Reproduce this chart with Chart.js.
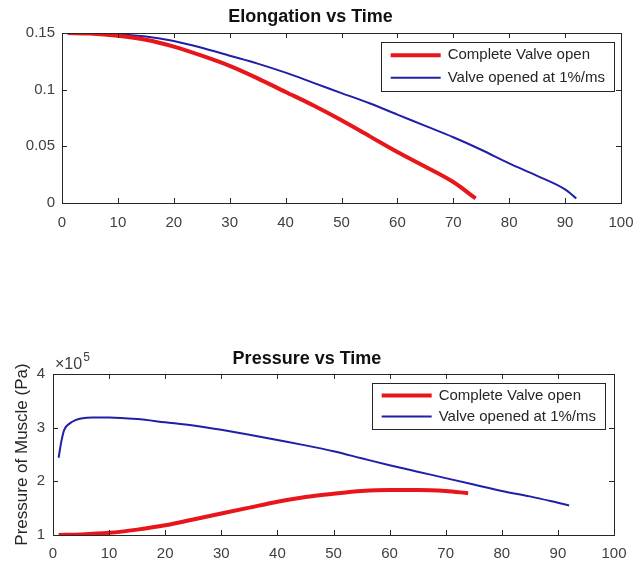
<!DOCTYPE html>
<html>
<head>
<meta charset="utf-8">
<script src="https://cdn.jsdelivr.net/npm/chart.js@4.4.1/dist/chart.umd.min.js"></script>
<style>
    body { margin: 0; background: #fff; }
    .box { position: absolute; left: 0; width: 638px; }
    #top-box { top: 0; height: 240px; }
    #bottom-box { top: 330px; height: 237px; }
</style>
</head>
<body>
<div class="box" id="top-box"><canvas id="elong-chart"></canvas></div>
<div class="box" id="bottom-box"><canvas id="press-chart"></canvas></div>
<script>
// time (ms) and elongation
const elongRedTime = [1, 5, 10, 15, 20, 25, 30, 35, 40, 45, 50, 55, 60, 65, 70, 74];
const elongRed = [0.150, 0.1495, 0.1475, 0.144, 0.138, 0.130, 0.121, 0.110, 0.098, 0.086, 0.073, 0.059, 0.045, 0.032, 0.0185, 0.004];
const elongBlueTime = [1, 5, 10, 15, 20, 25, 30, 35, 40, 45, 50, 55, 60, 65, 70, 75, 80, 85, 90, 92];
const elongBlue = [0.150, 0.150, 0.149, 0.147, 0.143, 0.137, 0.130, 0.123, 0.115, 0.106, 0.097, 0.088, 0.078, 0.068, 0.058, 0.047, 0.035, 0.024, 0.012, 0.004];

// pressure in units of 1e5 Pa
const pressRedTime = [1, 5, 10, 15, 20, 25, 30, 35, 40, 45, 50, 55, 60, 65, 70, 74];
const pressRed = [1.00, 1.01, 1.04, 1.10, 1.18, 1.29, 1.40, 1.51, 1.62, 1.71, 1.77, 1.82, 1.84, 1.84, 1.82, 1.78];
const pressBlueTime = [1, 1.5, 2, 3, 4, 5, 7, 10, 15, 20, 25, 30, 35, 40, 45, 50, 55, 60, 65, 70, 75, 80, 85, 90, 92];
const pressBlue = [2.44, 2.75, 2.96, 3.08, 3.14, 3.17, 3.19, 3.19, 3.16, 3.10, 3.04, 2.96, 2.87, 2.77, 2.67, 2.56, 2.43, 2.30, 2.18, 2.06, 1.94, 1.82, 1.72, 1.60, 1.55];

const seriesNames = ['Complete Valve open', 'Valve opened at 1%/ms'];
const xTicks = [0, 10, 20, 30, 40, 50, 60, 70, 80, 90, 100];
const elongTicks = [0, 0.05, 0.1, 0.15];
const pressTicks = [1, 2, 3, 4];

const FONT = '"Liberation Sans", Arial, Helvetica, sans-serif';
const RED = '#e8161b';
const BLUE = '#1f1fa8';

function points(xs, ys) {
    return xs.map((x, i) => ({x: x, y: ys[i]}));
}

// box round the plot with inward ticks, like matlab
const framePlugin = {
    id: 'frame',
    afterDatasetsDraw(chart) {
        const ctx = chart.ctx;
        const a = chart.chartArea;
        const xs = chart.scales.x, ys = chart.scales.y;
        ctx.save();
        ctx.strokeStyle = '#262626';
        ctx.lineWidth = 1;
        ctx.strokeRect(Math.round(a.left) + 0.5, Math.round(a.top) + 0.5,
            Math.round(a.right - a.left), Math.round(a.bottom - a.top));
        ctx.beginPath();
        xs.ticks.forEach(t => {
            const px = Math.round(xs.getPixelForValue(t.value)) + 0.5;
            ctx.moveTo(px, a.bottom); ctx.lineTo(px, a.bottom - 5);
            ctx.moveTo(px, a.top); ctx.lineTo(px, a.top + 5);
        });
        ys.ticks.forEach(t => {
            const py = Math.round(ys.getPixelForValue(t.value)) + 0.5;
            ctx.moveTo(a.left, py); ctx.lineTo(a.left + 5, py);
            ctx.moveTo(a.right, py); ctx.lineTo(a.right - 5, py);
        });
        ctx.stroke();
        ctx.restore();
    }
};

// legend drawn inside the plot area, top right
const boxLegend = {
    id: 'boxLegend',
    afterDatasetsDraw(chart, args, opts) {
        const ctx = chart.ctx;
        const a = chart.chartArea;
        ctx.save();
        ctx.font = '15px ' + FONT;
        const sets = chart.data.datasets;
        let textW = 0;
        sets.forEach(d => { textW = Math.max(textW, ctx.measureText(d.label).width); });
        const w = 10 + 50 + 7 + textW + 9;
        const h = opts.height;
        const right = a.right - opts.inset;
        const left = right - w;
        const top = a.top + 9;
        ctx.fillStyle = '#fff';
        ctx.fillRect(left, top, w, h);
        ctx.strokeStyle = '#262626';
        ctx.lineWidth = 1;
        ctx.strokeRect(Math.round(left) + 0.5, Math.round(top) + 0.5, Math.round(w), Math.round(h));
        const rowH = h / sets.length;
        sets.forEach((d, i) => {
            const cy = top + rowH * (i + 0.5) + (i === 0 ? 1 : -1);
            ctx.strokeStyle = d.borderColor;
            ctx.lineWidth = d.borderWidth;
            ctx.beginPath();
            ctx.moveTo(left + 10, cy);
            ctx.lineTo(left + 60, cy);
            ctx.stroke();
            ctx.fillStyle = '#262626';
            ctx.textBaseline = 'middle';
            ctx.fillText(d.label, left + 67, cy);
        });
        ctx.restore();
    }
};

// the x10^5 multiplier over the y axis
const exponentLabel = {
    id: 'exponentLabel',
    afterDraw(chart) {
        const ctx = chart.ctx;
        const a = chart.chartArea;
        ctx.save();
        ctx.fillStyle = '#404040';
        ctx.textBaseline = 'alphabetic';
        ctx.font = '16px ' + FONT;
        ctx.fillText('\u00d710', a.left + 2, a.top - 5);
        const w = ctx.measureText('\u00d710').width;
        ctx.font = '12px ' + FONT;
        ctx.fillText('5', a.left + 3 + w, a.top - 13);
        ctx.restore();
    }
};

function makeConfig(opt) {
    return {
        type: 'line',
        data: {
            datasets: [{
                label: seriesNames[0],
                data: opt.red,
                borderColor: RED,
                borderWidth: 4,
                pointRadius: 0,
                fill: false,
                cubicInterpolationMode: 'monotone'
            }, {
                label: seriesNames[1],
                data: opt.blue,
                borderColor: BLUE,
                borderWidth: 2,
                pointRadius: 0,
                fill: false,
                cubicInterpolationMode: 'monotone'
            }]
        },
        options: {
            responsive: true,
            maintainAspectRatio: false,
            animation: false,
            layout: { padding: { left: 0, right: opt.padRight, top: 0, bottom: 0 } },
            plugins: {
                legend: { display: false },
                tooltip: { enabled: false },
                title: {
                    display: true,
                    text: opt.title,
                    color: '#111',
                    font: { family: FONT, size: 18, weight: 'bold' },
                    padding: opt.titlePad
                },
                boxLegend: { inset: opt.legendInset, height: opt.legendHeight }
            },
            scales: {
                x: {
                    type: 'linear',
                    min: 0,
                    max: 100,
                    afterBuildTicks: s => { s.ticks = xTicks.map(v => ({value: v})); },
                    grid: { display: false, drawTicks: false },
                    border: { display: false },
                    ticks: {
                        color: '#404040',
                        padding: opt.xPad,
                        maxRotation: 0,
                        font: { family: FONT, size: 15 }
                    },
                    afterFit: s => {
                        s.height = opt.xHeight;
                        s.paddingLeft = 0;
                        s.paddingRight = 0;
                    }
                },
                y: {
                    type: 'linear',
                    min: opt.yTicks[0],
                    max: opt.yTicks[opt.yTicks.length - 1],
                    afterBuildTicks: s => { s.ticks = opt.yTicks.map(v => ({value: v})); },
                    grid: { display: false, drawTicks: false },
                    border: { display: false },
                    title: opt.yTitle,
                    ticks: {
                        color: '#404040',
                        padding: opt.yPad,
                        font: { family: FONT, size: 15 },
                        callback: v => String(+v.toFixed(2))
                    },
                    afterFit: s => { s.width = opt.yWidth; }
                }
            }
        },
        plugins: opt.plugins
    };
}

new Chart(document.getElementById('elong-chart'), makeConfig({
    title: 'Elongation vs Time',
    red: points(elongRedTime, elongRed),
    blue: points(elongBlueTime, elongBlue),
    yTicks: elongTicks,
    titlePad: { top: 6, bottom: 5.4 },
    padRight: 17,
    xHeight: 37,
    yWidth: 62,
    xPad: 11,
    yPad: 7,
    legendInset: 7,
    legendHeight: 49,
    yTitle: { display: false },
    plugins: [framePlugin, boxLegend]
}));

new Chart(document.getElementById('press-chart'), makeConfig({
    title: 'Pressure vs Time',
    red: points(pressRedTime, pressRed),
    blue: points(pressBlueTime, pressBlue),
    yTicks: pressTicks,
    titlePad: { top: 18.2, bottom: 4.2 },
    padRight: 24,
    xHeight: 32,
    yWidth: 53,
    xPad: 10,
    yPad: 8,
    legendInset: 9,
    legendHeight: 46,
    yTitle: {
        display: true,
        text: 'Pressure of Muscle (Pa)',
        color: '#262626',
        font: { family: FONT, size: 17 },
        padding: { top: 12, bottom: 0 }
    },
    plugins: [framePlugin, boxLegend, exponentLabel]
}));
</script>
</body>
</html>
